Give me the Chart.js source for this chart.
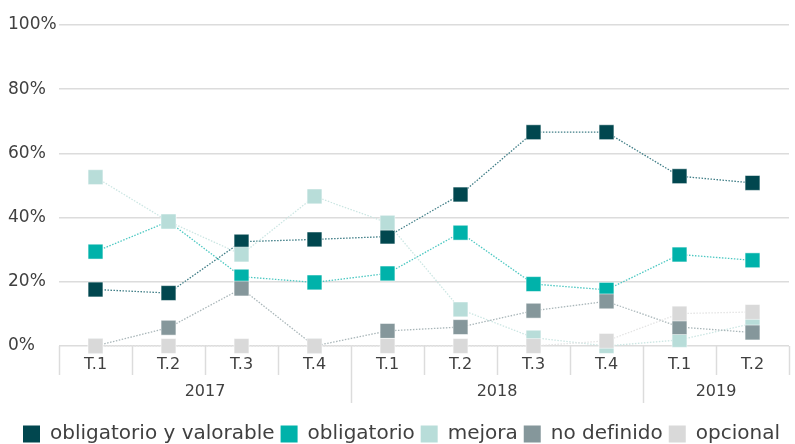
<!DOCTYPE html>
<html lang="es">
<head>
<meta charset="UTF-8">
<title>Evolución por trimestre</title>
<script src="https://cdn.jsdelivr.net/npm/chart.js"></script>
<style>
  body { margin: 0; background: #fff; }
  #wrap { width: 795px; height: 444px; position: relative; }
</style>
</head>
<body>
<div id="wrap"><canvas id="chart"></canvas></div>
<script>
// trimestres y años
const quarters = ["T.1", "T.2", "T.3", "T.4", "T.1", "T.2", "T.3", "T.4", "T.1", "T.2"];
const years = ["2017", "2018", "2019"];
const yearSpans = [4, 4, 2];

// porcentajes por serie
const obligatorioValorable = [17.6, 16.5, 32.5, 33.2, 34.1, 47.2, 66.6, 66.6, 52.9, 50.8];
const obligatorio = [29.4, 38.8, 21.6, 19.8, 22.6, 35.3, 19.3, 17.5, 28.5, 26.7];
const mejora = [52.6, 38.8, 28.5, 46.6, 38.4, 11.4, 2.6, 0.0, 1.9, 7.0];
const noDefinido = [0.0, 5.7, 17.9, 0.0, 4.7, 5.9, 11.0, 13.9, 5.9, 4.2];
const opcional = [0.0, 0.0, 0.0, 0.0, 0.0, 0.0, 0.0, 1.6, 10.1, 10.6];

const textColor = "#404040";
const gridColor = "#dcdcdc";

function serie(label, data, color, lineColor, order) {
  return {
    label: label,
    data: data,
    backgroundColor: color,
    borderColor: lineColor,
    borderWidth: 1.3,
    borderDash: [1.5, 1.5],
    pointStyle: "rect",
    pointRadius: 10.5,
    pointHoverRadius: 10.5,
    pointBackgroundColor: color,
    pointBorderColor: "rgba(255,255,255,0.5)",
    pointBorderWidth: 1,
    tension: 0,
    clip: false,
    order: order
  };
}

// líneas separadoras y años bajo el eje x
const yearAxis = {
  id: "yearAxis",
  afterDraw(chart) {
    const x = chart.scales.x;
    const bottom = chart.chartArea.bottom;
    const ctx = chart.ctx;
    ctx.save();
    ctx.strokeStyle = gridColor;
    ctx.lineWidth = 1.5;
    const longAt = [];
    let acc = 0;
    yearSpans.forEach((s, i) => { acc += s; if (i < yearSpans.length - 1) longAt.push(acc); });
    for (let i = 0; i <= quarters.length; i++) {
      const px = Math.round(x.getPixelForValue(i - 0.5)) + 0.5;
      const len = longAt.includes(i) ? 57 : 29;
      ctx.beginPath();
      ctx.moveTo(px, bottom);
      ctx.lineTo(px, bottom + len);
      ctx.stroke();
    }
    ctx.fillStyle = textColor;
    ctx.font = "16px 'DejaVu Sans'";
    ctx.textAlign = "center";
    ctx.textBaseline = "middle";
    let start = 0;
    years.forEach((y, i) => {
      const mid = start + (yearSpans[i] - 1) / 2;
      ctx.fillText(y, x.getPixelForValue(mid), bottom + 46);
      start += yearSpans[i];
    });
    ctx.restore();
  }
};

new Chart(document.getElementById("chart"), {
  type: "line",
  data: {
    labels: quarters,
    datasets: [
      serie("obligatorio y valorable", obligatorioValorable, "#01474f", "#3f7d86", 5),
      serie("obligatorio", obligatorio, "#00b2aa", "#4cc8c2", 4),
      serie("mejora", mejora, "#b8ddd9", "#cce6e3", 3),
      serie("no definido", noDefinido, "#85979b", "#a9b6b9", 2),
      serie("opcional", opcional, "#d9d9d9", "#e4e4e4", 1)
    ]
  },
  options: {
    responsive: true,
    maintainAspectRatio: false,
    animation: false,
    layout: { autoPadding: false, padding: { top: 25, left: 8, right: 0, bottom: -10 } },
    plugins: {
      tooltip: { enabled: false },
      legend: {
        position: "bottom",
        align: "center",
        labels: {
          boxWidth: 17,
          boxHeight: 17,
          padding: 6,
          color: textColor,
          font: { family: "'DejaVu Sans'", size: 20 },
          sort: (a, b) => a.datasetIndex - b.datasetIndex,
          generateLabels(chart) {
            return chart.data.datasets.map((d, i) => ({
              text: d.label,
              fillStyle: d.backgroundColor,
              strokeStyle: d.backgroundColor,
              lineWidth: 0,
              fontColor: textColor,
              hidden: false,
              datasetIndex: i
            }));
          }
        }
      }
    },
    scales: {
      x: {
        offset: true,
        grid: { display: false },
        border: { display: false },
        ticks: {
          color: textColor,
          padding: 1,
          font: { family: "'DejaVu Sans'", size: 16 }
        },
        afterFit(scale) {
          scale.height = 72;
          scale.paddingLeft = 0;
          scale.paddingRight = 6;
        }
      },
      y: {
        min: 0,
        max: 100,
        ticks: {
          stepSize: 20,
          color: textColor,
          crossAlign: "far",
          padding: 6,
          font: { family: "'DejaVu Sans'", size: 17 },
          callback: v => v + "%"
        },
        grid: { color: gridColor, lineWidth: 1.5, drawTicks: false },
        border: { display: false },
        afterFit(scale) { scale.width = 51; }
      }
    }
  },
  plugins: [yearAxis]
});
</script>
</body>
</html>
